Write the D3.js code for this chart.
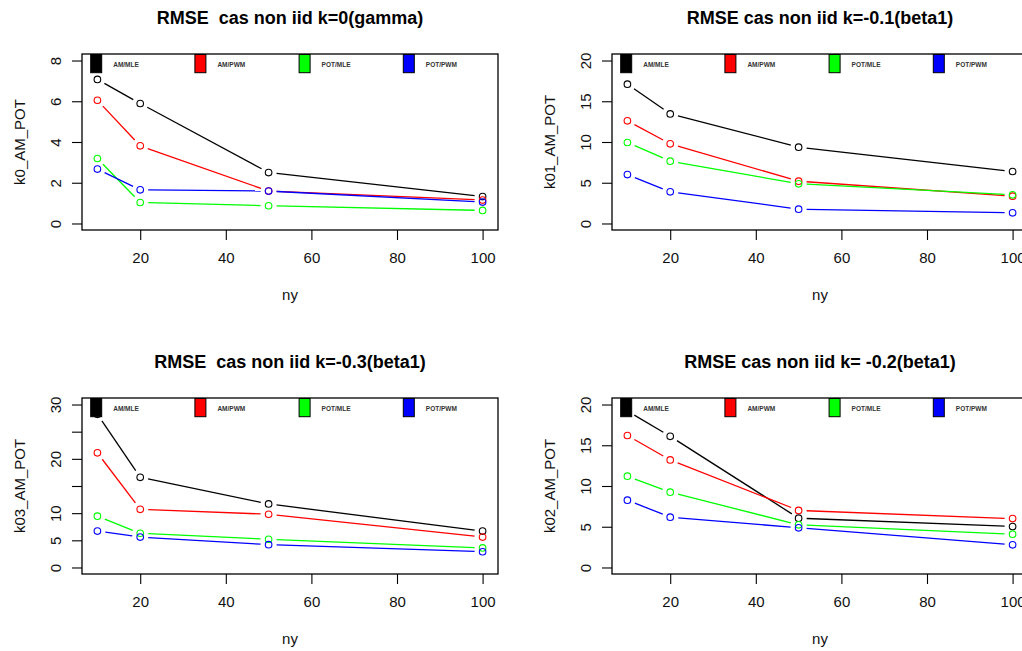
<!DOCTYPE html>
<html>
<head>
<meta charset="utf-8">
<script src="https://cdn.jsdelivr.net/npm/d3@7"></script>
<style>
  html, body { margin: 0; padding: 0; background: #fff; }
  svg { display: block; font-family: "Liberation Sans", Arial, sans-serif; }
  text { white-space: pre; }
</style>
</head>
<body>
<svg id="chart" width="1022" height="651"></svg>
<script>
// Sample sizes (x axis)
const ny = [10, 20, 50, 100];
const methods = ["AM/MLE", "AM/PWM", "POT/MLE", "POT/PWM"];
const xTicks = [20, 40, 60, 80, 100];

// k = 0 (gamma)
const k0_AM_MLE  = [7.07, 5.89, 2.50, 1.32];
const k0_AM_PWM  = [6.05, 3.81, 1.59, 1.15];
const k0_POT_MLE = [3.19, 1.03, 0.87, 0.64];
const k0_POT_PWM = [2.67, 1.65, 1.59, 1.05];
const k0_yTicks = [0, 2, 4, 6, 8];

// k = -0.1 (beta1)
const k01_AM_MLE  = [17.1, 13.45, 9.37, 6.38];
const k01_AM_PWM  = [12.6, 9.78, 5.19, 3.35];
const k01_POT_MLE = [9.94, 7.65, 4.87, 3.52];
const k01_POT_PWM = [6.0, 3.89, 1.76, 1.31];
const k01_yTicks = [0, 5, 10, 15, 20];

// k = -0.3 (beta1)
const k03_AM_MLE  = [28.2, 16.6, 11.7, 6.7];
const k03_AM_PWM  = [21.1, 10.7, 9.8, 5.6];
const k03_POT_MLE = [9.45, 6.3, 5.2, 3.6];
const k03_POT_PWM = [6.7, 5.6, 4.2, 2.9];
const k03_yTicks = [0, 5, 10, 15, 20, 25, 30];
const k03_yLabels = ["0", "5", "10", "", "20", "", "30"];

// k = -0.2 (beta1)
const k02_AM_MLE  = [19.2, 16.1, 6.05, 5.03];
const k02_AM_PWM  = [16.2, 13.2, 7.0, 6.0];
const k02_POT_MLE = [11.2, 9.24, 5.24, 4.09];
const k02_POT_PWM = [8.26, 6.18, 4.87, 2.78];
const k02_yTicks = [0, 5, 10, 15, 20];

const colors = ["#000000", "#ff0000", "#00ff00", "#0000ff"];

const svg = d3.select("#chart");
const W = 416, H = 176;     // plot box size
const GAP = 8;              // gap between point and connecting line

function panel(cfg) {
  const g = svg.append("g").attr("transform", `translate(${cfg.left},${cfg.top})`);
  const xs = d3.scaleLinear().domain([10 - 3.6, 100 + 3.6]).range([0, W]);
  const yMax = cfg.ymax;
  const ys = d3.scaleLinear().domain([-0.04 * yMax, 1.04 * yMax]).range([H, 0]);

  // title
  g.append("text").attr("x", W / 2).attr("y", -30)
    .attr("text-anchor", "middle").attr("font-size", 18).attr("font-weight", "bold")
    .text(cfg.title);

  // box
  g.append("rect").attr("x", 0).attr("y", 0).attr("width", W).attr("height", H)
    .attr("fill", "none").attr("stroke", "#000").attr("stroke-width", 1.3);

  // x axis
  const xAxis = d3.axisBottom(xs).tickValues(xTicks).tickSize(10).tickPadding(0).tickFormat(d3.format("d"));
  const gx = g.append("g").attr("transform", `translate(0,${H})`).call(xAxis);
  gx.select(".domain").remove();
  gx.selectAll(".tick line").attr("stroke", "#000").attr("stroke-width", 1.1);
  gx.selectAll(".tick text").attr("font-size", 15).attr("fill", "#111")
    .attr("font-family", "Liberation Sans, Arial, sans-serif")
    .attr("y", 33).attr("dy", null);

  // y axis
  const yLab = cfg.yLabels || cfg.yTicks.map(String);
  const yAxis = d3.axisLeft(ys).tickValues(cfg.yTicks).tickSize(10).tickFormat((d, i) => yLab[i]);
  const gy = g.append("g").call(yAxis);
  gy.select(".domain").remove();
  gy.selectAll(".tick line").attr("stroke", "#000").attr("stroke-width", 1.1);
  gy.selectAll(".tick text").attr("font-size", 15).attr("fill", "#111")
    .attr("font-family", "Liberation Sans, Arial, sans-serif")
    .attr("x", null).attr("dy", null)
    .attr("text-anchor", "middle")
    .attr("transform", "translate(-21,0) rotate(-90)");

  // axis titles
  g.append("text").attr("x", W / 2).attr("y", H + 70).attr("text-anchor", "middle")
    .attr("font-size", 15).attr("fill", "#111").text("ny");
  g.append("text").attr("transform", `translate(-57.5,${H / 2}) rotate(-90)`)
    .attr("text-anchor", "middle").attr("font-size", 15).attr("fill", "#111").text(cfg.ylab);

  // series: points joined by segments that stop short of each point
  const line = d3.line();
  cfg.series.forEach((vals, si) => {
    const pts = ny.map((n, i) => [xs(n), ys(vals[i])]);
    for (let i = 0; i < pts.length - 1; i++) {
      const [x0, y0] = pts[i], [x1, y1] = pts[i + 1];
      const len = Math.hypot(x1 - x0, y1 - y0);
      if (len <= 2 * GAP) continue;
      const ux = (x1 - x0) / len, uy = (y1 - y0) / len;
      g.append("path")
        .attr("d", line([[x0 + ux * GAP, y0 + uy * GAP], [x1 - ux * GAP, y1 - uy * GAP]]))
        .attr("stroke", colors[si]).attr("stroke-width", 1.3).attr("fill", "none");
    }
    g.selectAll(null).data(pts).enter().append("circle")
      .attr("cx", d => d[0]).attr("cy", d => d[1]).attr("r", 3.3)
      .attr("fill", "none").attr("stroke", colors[si]).attr("stroke-width", 1.1);
  });

  // legend across the top of the plot
  const lg = g.append("g");
  methods.forEach((m, i) => {
    const lx = 8.7 + i * 104.2;
    lg.append("rect").attr("x", lx).attr("y", 0.5).attr("width", 11).attr("height", 18.2)
      .attr("fill", colors[i]).attr("stroke", "#000").attr("stroke-width", 1);
    lg.append("text").attr("x", lx + 22.5).attr("y", 12.5)
      .attr("font-size", 6.5).attr("font-weight", "bold").attr("fill", "#333").text(m);
  });
}

panel({ left: 82, top: 54, title: "RMSE  cas non iid k=0(gamma)", ylab: "k0_AM_POT",
  ymax: 8, yTicks: k0_yTicks,
  series: [k0_AM_MLE, k0_AM_PWM, k0_POT_MLE, k0_POT_PWM] });

panel({ left: 612, top: 54, title: "RMSE cas non iid k=-0.1(beta1)", ylab: "k01_AM_POT",
  ymax: 20, yTicks: k01_yTicks,
  series: [k01_AM_MLE, k01_AM_PWM, k01_POT_MLE, k01_POT_PWM] });

panel({ left: 82, top: 398, title: "RMSE  cas non iid k=-0.3(beta1)", ylab: "k03_AM_POT",
  ymax: 30, yTicks: k03_yTicks, yLabels: k03_yLabels,
  series: [k03_AM_MLE, k03_AM_PWM, k03_POT_MLE, k03_POT_PWM] });

panel({ left: 612, top: 398, title: "RMSE cas non iid k= -0.2(beta1)", ylab: "k02_AM_POT",
  ymax: 20, yTicks: k02_yTicks,
  series: [k02_AM_MLE, k02_AM_PWM, k02_POT_MLE, k02_POT_PWM] });
</script>
</body>
</html>
